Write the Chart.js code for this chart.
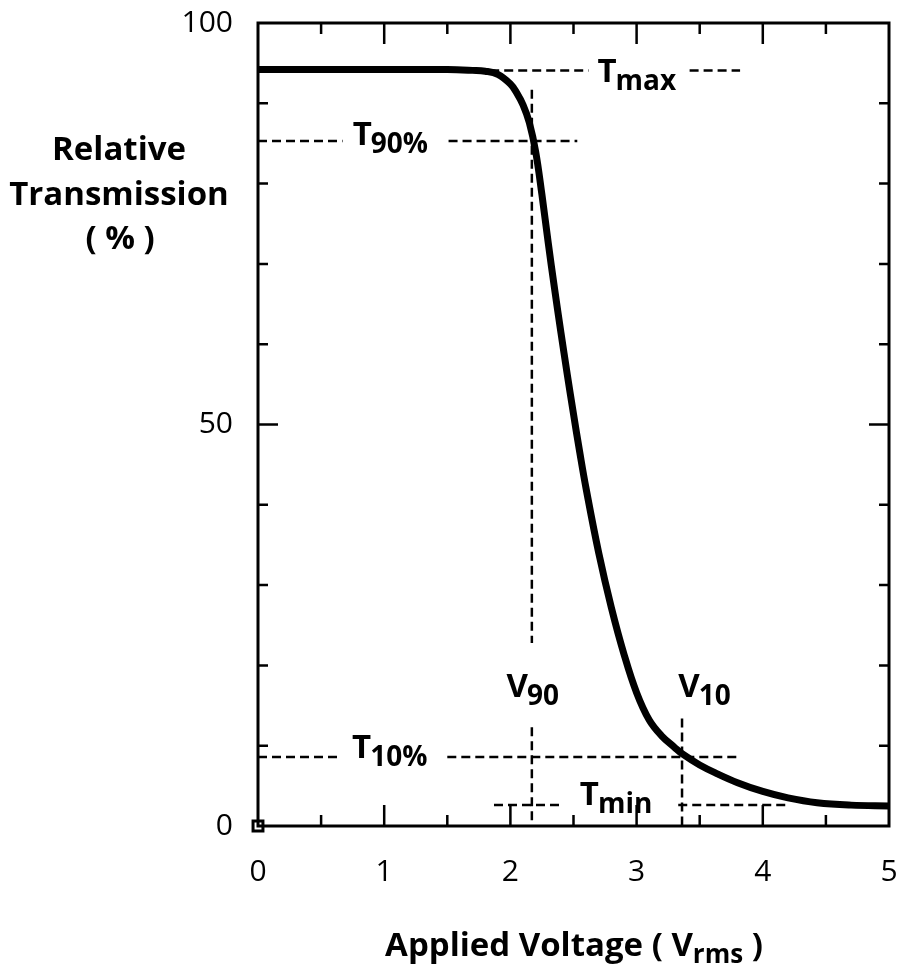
<!DOCTYPE html>
<html>
<head>
<meta charset="utf-8">
<style>
  body { margin: 0; background: #fff; }
  canvas { display: block; }
</style>
<script src="https://cdn.jsdelivr.net/npm/chart.js@4.4.1/dist/chart.umd.min.js"></script>
</head>
<body>
<canvas id="chart" width="899" height="968"></canvas>
<script>
// transmission curve
const voltage = [0, 0.5, 1, 1.5, 1.7, 1.8, 1.9, 2.0, 2.05, 2.1, 2.15, 2.2, 2.25, 2.3, 2.35, 2.4, 2.45, 2.5, 2.55, 2.6, 2.7, 2.8, 2.9, 3.0, 3.1, 3.2, 3.3, 3.36, 3.5, 3.64, 3.8, 4.0, 4.2, 4.43, 4.7, 5.0];
const transmission = [94.2, 94.2, 94.2, 94.2, 94.1, 94.0, 93.6, 92.4, 91.3, 89.8, 87.6, 84.0, 78.6, 72.6, 66.9, 61.5, 56.3, 51.3, 46.5, 42.0, 34.0, 27.2, 21.4, 16.6, 13.2, 11.2, 9.8, 9.0, 7.6, 6.5, 5.4, 4.3, 3.5, 2.9, 2.6, 2.5];

// tick labels
const xTicks = [0, 1, 2, 3, 4, 5];
const yTicks = [0, 50, 100];

// reference levels
const tMax = 94.1, t90 = 85.3, t10 = 8.6, tMin = 2.6;
const v90 = 2.17, v10 = 3.36;

// dashed guide segments (null = gap where text sits)
const guideTmax = [[1.84, tMax], [2.62, tMax], [2.7, null], [3.42, tMax], [3.82, tMax]];
const guideT90 = [[0, t90], [0.67, t90], [1.0, null], [1.51, t90], [2.53, t90]];
const guideT10 = [[0, t10], [0.65, t10], [1.0, null], [1.5, t10], [3.8, t10]];
const guideTmin = [[1.87, tMin], [2.42, tMin], [2.9, null], [3.33, tMin], [4.19, tMin]];
const guideV90 = [[v90, 91.7], [v90, 22.8], [v90, null], [v90, 12.3], [v90, 0]];
const guideV10 = [[v10, 13.4], [v10, 0]];

// annotation labels: main letter, subscript, x, baseline (data units)
const notes = [
  ['T', 'max', 2.69, 92.6],
  ['T', '90%', 0.75, 84.8],
  ['T', '10%', 0.745, 8.47],
  ['T', 'min', 2.55, 2.6],
  ['V', '90', 1.97, 16.1],
  ['V', '10', 3.33, 16.1]
];

const FONT = '"Open Sans", "DejaVu Sans", sans-serif';

function pts(arr) {
  return arr.map(function (p) { return { x: p[0], y: p[1] }; });
}
function guide(arr) {
  return {
    data: pts(arr),
    borderColor: '#000',
    borderWidth: 2.5,
    borderDash: [9, 5],
    pointRadius: 0,
    tension: 0,
    spanGaps: false
  };
}

const frameAndNotes = {
  id: 'frameAndNotes',
  beforeDraw(chart) {
    const ctx = chart.ctx;
    ctx.save();
    ctx.fillStyle = '#fff';
    ctx.fillRect(0, 0, chart.width, chart.height);
    ctx.restore();
  },
  afterDatasetsDraw(chart) {
    const ctx = chart.ctx;
    const a = chart.chartArea;
    const xs = chart.scales.x, ys = chart.scales.y;
    ctx.save();
    ctx.strokeStyle = '#000';
    ctx.lineWidth = 3;
    ctx.strokeRect(a.left, a.top, a.right - a.left, a.bottom - a.top);

    // inward ticks on all four sides
    ctx.lineWidth = 2.5;
    ctx.beginPath();
    for (let v = 0.5; v < 5; v += 0.5) {
      const px = xs.getPixelForValue(v);
      const len = Number.isInteger(v) ? 21 : 11;
      ctx.moveTo(px, a.bottom); ctx.lineTo(px, a.bottom - len);
      ctx.moveTo(px, a.top); ctx.lineTo(px, a.top + len);
    }
    for (let v = 10; v < 100; v += 10) {
      const py = ys.getPixelForValue(v);
      const len = v % 50 === 0 ? 20 : 10;
      ctx.moveTo(a.left, py); ctx.lineTo(a.left + len, py);
      ctx.moveTo(a.right, py); ctx.lineTo(a.right - len, py);
    }
    ctx.stroke();

    // annotation labels with subscripts
    ctx.fillStyle = '#000';
    ctx.textBaseline = 'alphabetic';
    ctx.textAlign = 'left';
    notes.forEach(function (n) {
      const px = xs.getPixelForValue(n[2]);
      const py = ys.getPixelForValue(n[3]);
      ctx.font = 'bold 33px ' + FONT;
      ctx.fillText(n[0], px, py);
      const w = ctx.measureText(n[0]).width;
      ctx.font = 'bold 28px ' + FONT;
      ctx.fillText(n[1], px + w - 1, py + 8);
    });

    // y axis title (horizontal, three lines)
    ctx.textAlign = 'center';
    ctx.font = 'bold 33px ' + FONT;
    ctx.fillText('Relative', 119, 160);
    ctx.fillText('Transmission', 119, 205);
    ctx.fillText('( % )', 120, 249);

    // x axis title with subscript
    const t1 = 'Applied Voltage ( V';
    const t2 = 'rms';
    const t3 = ' )';
    ctx.font = 'bold 33px ' + FONT;
    const w1 = ctx.measureText(t1).width;
    const w3 = ctx.measureText(t3).width;
    ctx.font = 'bold 26px ' + FONT;
    const w2 = ctx.measureText(t2).width;
    const x0 = 574 - (w1 + w2 + w3) / 2;
    ctx.textAlign = 'left';
    ctx.font = 'bold 33px ' + FONT;
    ctx.fillText(t1, x0, 956);
    ctx.font = 'bold 26px ' + FONT;
    ctx.fillText(t2, x0 + w1, 963);
    ctx.font = 'bold 33px ' + FONT;
    ctx.fillText(t3, x0 + w1 + w2, 956);
    ctx.restore();
  }
};

new Chart(document.getElementById('chart'), {
  type: 'line',
  data: {
    datasets: [
      {
        data: voltage.map(function (v, i) { return { x: v, y: transmission[i] }; }),
        borderColor: '#000',
        borderWidth: 7,
        pointRadius: 0,
        tension: 0.4,
        clip: false
      },
      guide(guideTmax),
      guide(guideT90),
      guide(guideT10),
      guide(guideTmin),
      guide(guideV90),
      guide(guideV10),
      {
        data: [{ x: 0, y: 0 }],
        pointStyle: 'rect',
        pointRadius: 7,
        pointBackgroundColor: '#fff',
        pointBorderColor: '#000',
        pointBorderWidth: 3,
        showLine: false,
        clip: false
      }
    ]
  },
  options: {
    responsive: false,
    animation: false,
    layout: { padding: { top: 23, right: 10, left: 0, bottom: 0 } },
    plugins: {
      legend: { display: false },
      tooltip: { enabled: false }
    },
    scales: {
      x: {
        type: 'linear',
        min: 0,
        max: 5,
        afterBuildTicks: function (s) { s.ticks = xTicks.map(function (v) { return { value: v }; }); },
        afterFit: function (s) {
          s.height = 142;
          s.paddingLeft = 0; s.paddingRight = 0;
        },
        grid: { display: false, drawTicks: false },
        border: { display: false },
        ticks: {
          padding: 28,
          maxRotation: 0,
          color: '#000',
          font: { family: FONT, size: 30 }
        }
      },
      y: {
        type: 'linear',
        min: 0,
        max: 100,
        afterBuildTicks: function (s) { s.ticks = yTicks.map(function (v) { return { value: v }; }); },
        afterFit: function (s) {
          s.width = 258;
          s.paddingTop = 0; s.paddingBottom = 0;
        },
        grid: { display: false, drawTicks: false },
        border: { display: false },
        ticks: {
          padding: 25,
          color: '#000',
          font: { family: FONT, size: 30 }
        }
      }
    }
  },
  plugins: [frameAndNotes]
});
</script>
</body>
</html>
